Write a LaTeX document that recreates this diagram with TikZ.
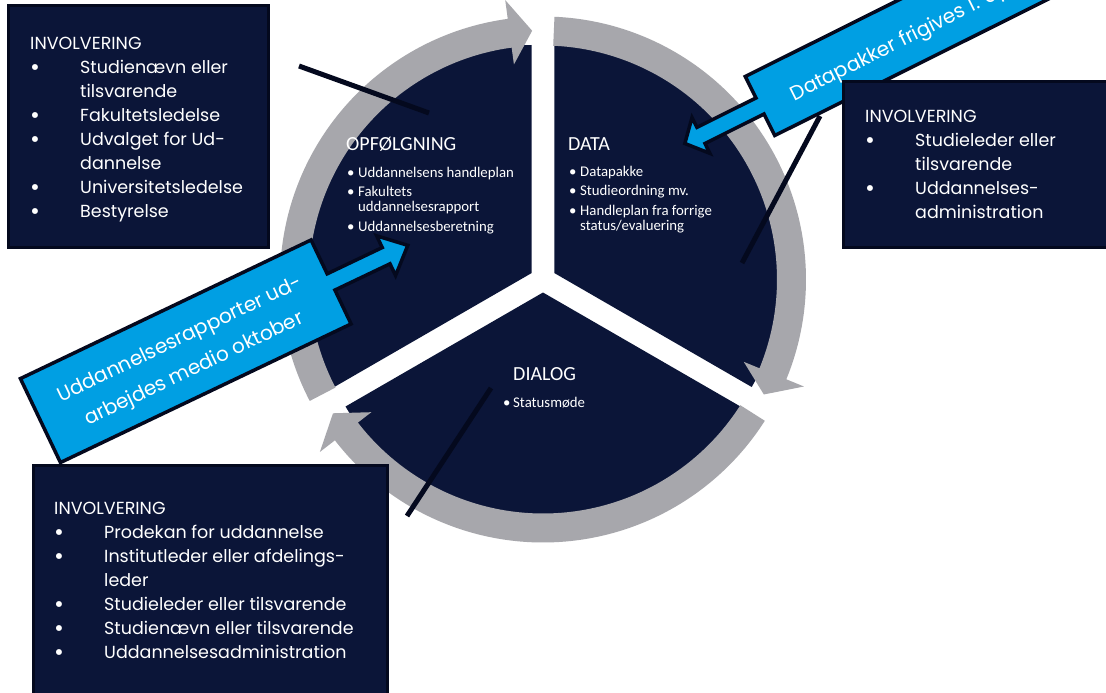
\documentclass[tikz,border=0pt]{standalone}
\usepackage{fontspec}
\setmainfont{Carlito}
\newfontfamily\popfont{Poppins}
\definecolor{navy}{RGB}{11,21,56}
\definecolor{navyedge}{RGB}{4,9,30}
\definecolor{ringgray}{RGB}{167,167,172}
\definecolor{cyanblue}{RGB}{0,159,227}
\newcommand{\bul}{\makebox[50pt][l]{\raisebox{-2pt}{\fontsize{24}{24}\selectfont •}}}
\newcommand{\ind}{\hspace*{50pt}}
\newcommand{\sbl}{\makebox[11pt][l]{•}}
\begin{document}
\begin{tikzpicture}[x=1pt,y=-1pt,
  sector/.style={fill=navy},
  ringarrow/.style={fill=ringgray},
  conn/.style={draw=navyedge,line width=5pt},
  callout/.style={fill=cyanblue,draw=navyedge,line width=3.5pt,line join=miter},
  infobox/.style={fill=navy,draw=navyedge,line width=3pt,inner sep=0,anchor=north west},
  boxtext/.style={font=\popfont\fontsize{17.5}{24}\selectfont,text=white,align=left,inner sep=0,anchor=base west},
  headtext/.style={font=\fontsize{20}{24}\selectfont,text=white,inner sep=0,anchor=base west},
  itemtext/.style={font=\fontsize{14.8}{15.5}\selectfont,text=white,align=left,inner sep=0,anchor=base west},
  callouttext/.style={font=\popfont\fontsize{20}{33}\selectfont,text=white,inner sep=0,transform shape}]
\useasboundingbox (0,0) rectangle (1106,693);
\clip (0,0) rectangle (1106,693);
\fill[white] (0,0) rectangle (1106,693);

% pie sectors and ring arrows
\begin{scope}[shift={(543,279.5)}]
  \fill[sector] (210:13) -- ++(150:228) arc[start angle=150,end angle=270,radius=228] -- cycle;
  \fill[sector] (-30:13) -- ++(-90:228) arc[start angle=-90,end angle=30,radius=228] -- cycle;
  \fill[sector] (90:13) -- ++(30:228) arc[start angle=30,end angle=150,radius=228] -- cycle;
  \foreach \t [evaluate=\t as \b using \t+109.8, evaluate=\t as \p using \t+115] in {152.5,-87.5,32.5} {
    \fill[ringarrow] (\t:263) arc[start angle=\t,end angle=\b,radius=263]
      -- (\b:282) -- (\p:249) -- (\b:217) -- (\b:234)
      arc[start angle=\b,end angle=\t,radius=234] -- cycle;
  }
\end{scope}

% connector lines
\coordinate (l1a) at (299,66);  \coordinate (l1b) at (429,113);
\coordinate (l2a) at (742,263); \coordinate (l2b) at (820,116);
\coordinate (l3a) at (491,388); \coordinate (l3b) at (407,516);
\draw[conn] (l1a) -- (l1b);
\draw[conn] (l2a) -- (l2b);
\draw[conn] (l3a) -- (l3b);

% sector texts (multi-line nodes anchored at the baseline of their last line)
\node[headtext] (hopf) at (346,150) {OPFØLGNING};
\node[itemtext] (iopf) at (347,231.5) {\sbl Uddannelsens handleplan\\[3.5pt]\sbl Fakultets\\\hspace*{11pt}uddannelsesrapport\\[4.5pt]\sbl Uddannelsesberetning};
\node[headtext] (hdata) at (568,150) {DATA};
\node[itemtext] (idata) at (569,230.5) {\sbl Datapakke\\[3.5pt]\sbl Studieordning mv.\\[4.5pt]\sbl Handleplan fra forrige\\\hspace*{11pt}status/evaluering};
\node[headtext] (hdia) at (513,380) {DIALOG};
\node[itemtext] (idia) at (503,407) {\makebox[10pt][l]{•}Statusmøde};

% callout: Uddannelsesrapporter
\begin{scope}[shift={(185.75,351.25)},rotate=25.5]
  \draw[callout] (-161,-46.5) -- (161,-46.5) -- (161,-9) -- (222,-9) -- (222,-22) -- (246,0)
    -- (222,22) -- (222,9) -- (161,9) -- (161,46.5) -- (-161,46.5) -- cycle;
  \node[callouttext,align=center] (c1text) at (0,4) {Uddannelsesrapporter ud-\\arbejdes medio oktober};
\end{scope}

% callout: Datapakker
\begin{scope}[shift={(760,106)},rotate=26.5]
  \draw[callout] (0,-33) -- (440,-33) -- (440,33) -- (0,33) -- (0,9) -- (-66,9) -- (-66,20)
    -- (-84,0) -- (-66,-20) -- (-66,-9) -- (0,-9) -- cycle;
  \node[callouttext,anchor=base west] (c2text) at (33,11) {Datapakker frigives 1. ap};
\end{scope}

% involvement boxes
\node[infobox,minimum width=260pt,minimum height=242pt] (box1) at (7,4) {};
\node[infobox,minimum width=280pt,minimum height=166pt] (box2) at (842,80) {};
\node[infobox,minimum width=354pt,minimum height=240pt] (box3) at (32,464) {};

\node[boxtext] (t1) at (30,217) {INVOLVERING\\\bul Studienævn eller\\\ind tilsvarende\\\bul Fakultetsledelse\\\bul Udvalget for Ud-\\\ind dannelse\\\bul Universitetsledelse\\\bul Bestyrelse};
\node[boxtext] (t2) at (865,218) {INVOLVERING\\\bul Studieleder eller\\\ind tilsvarende\\\bul Uddannelses-\\\ind administration};
\node[boxtext] (t3) at (54,658) {INVOLVERING\\\bul Prodekan for uddannelse\\\bul Institutleder eller afdelings-\\\ind leder\\\bul Studieleder eller tilsvarende\\\bul Studienævn eller tilsvarende\\\bul Uddannelsesadministration};
\end{tikzpicture}
\end{document}
